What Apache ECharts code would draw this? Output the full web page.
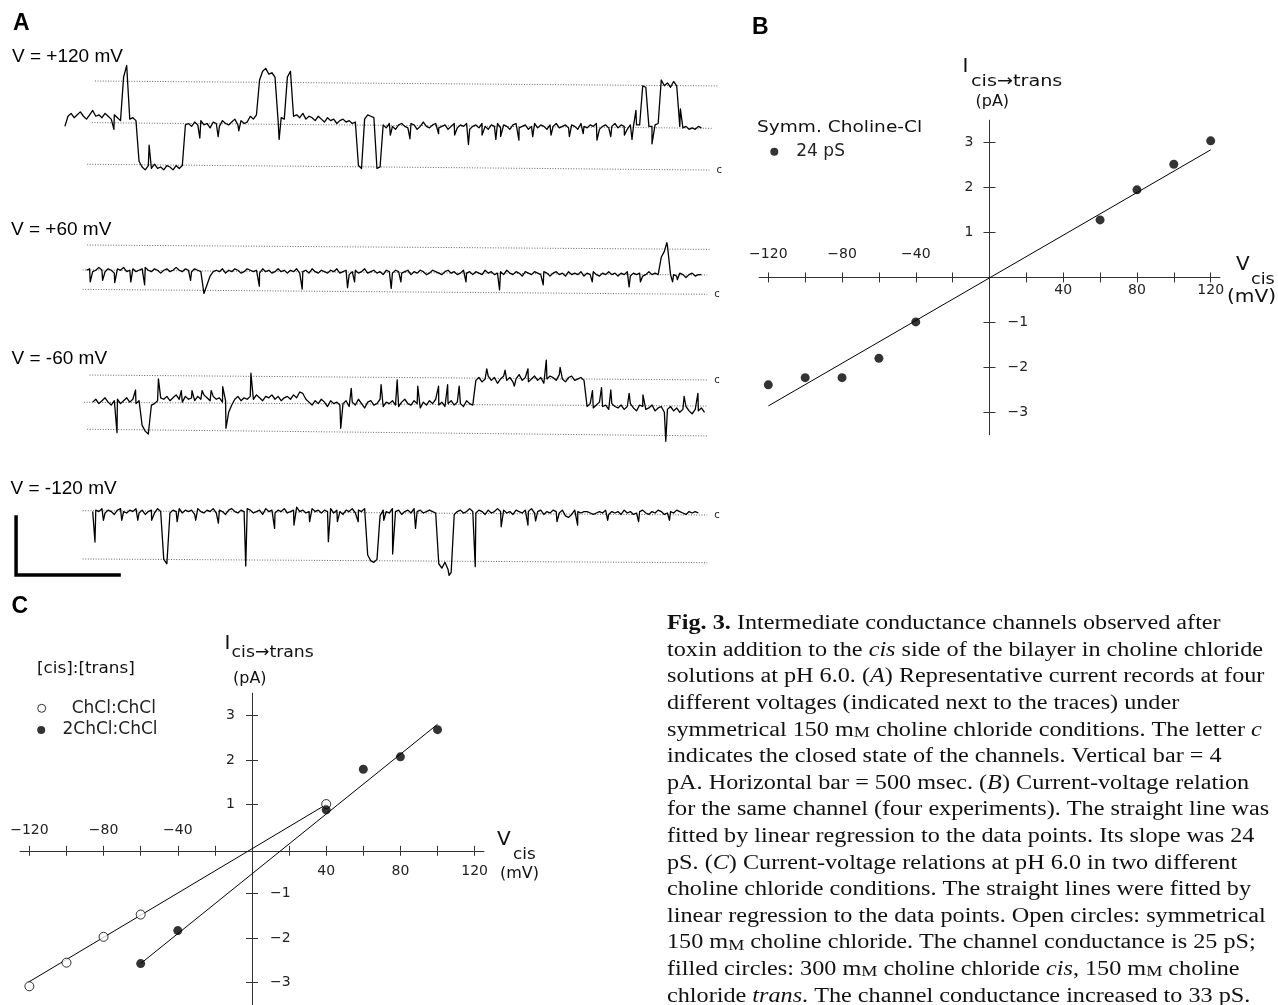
<!DOCTYPE html>
<html><head><meta charset="utf-8">
<script src="https://cdn.jsdelivr.net/npm/echarts@6/dist/echarts.min.js"></script>
<style>html,body{margin:0;padding:0;background:#fff}#chart{width:1278px;height:1005px}</style>
</head><body><div id="chart"></div>
<script>
// ---------------- DATA ----------------
// Panel A: single-channel current records (time in ms, current in pA, closed level = 0)
const traceStep = 15;
const trace1Start = 15;
const trace1Values = [2.8,
 3.5,3.7,3.4,3.6,3.8,3.5,3.3,3.6,3.9,3.5,3.6,3.4,3.7,3.5,3.3,3.6,3.4,3.2,
 6.2,7.0,3.3,3.4,3.2,0.4,
 0.0,-0.2,0.1,-0.1,0.2,-0.1,0.0,-0.2,0.1,0.0,-0.2,0.1,-0.1,0.1,
 2.9,
 3.0,2.8,3.1,2.9,3.2,2.9,3.0,2.7,3.1,3.0,2.8,3.2,3.0,2.9,3.1,3.3,2.9,3.2,3.0,3.1,
 3.5,3.3,3.6,
 6.0,6.6,6.8,6.4,6.5,6.2,
 3.2,3.4,3.3,
 6.2,6.6,
 3.5,3.6,3.4,3.7,3.3,3.5,3.4,3.2,3.5,3.3,3.1,3.4,3.2,3.3,3.0,3.2,3.3,3.1,3.2,3.0,3.1,
 0.1,-0.1,
 3.3,3.6,3.5,3.4,
 -0.1,0.0,
 2.9,2.7,3.0,2.8,2.6,2.9,3.0,2.8,2.7,3.0,2.9,2.6,2.8,3.1,2.8,2.7,2.9,3.0,2.7,2.8,
 2.9,2.6,2.8,3.0,2.7,2.9,2.8,3.0,2.6,2.8,2.9,2.7,3.0,2.8,2.6,2.9,2.8,3.0,2.7,2.9,
 2.8,2.6,2.9,3.0,2.7,2.8,2.9,2.6,2.8,3.0,2.7,2.9,2.8,2.6,2.9,2.8,3.0,2.7,2.8,2.9,
 2.7,2.9,2.8,2.6,3.0,2.8,2.7,2.9,2.8,3.0,2.6,2.8,2.9,2.7,2.8,3.0,2.7,2.9,2.8,2.6,2.9,2.8,
 2.9,2.9,5.6,5.5,2.8,2.8,2.9,3.0,
 6.0,5.6,5.8,5.5,5.9,5.6,
 2.8,2.7,2.8,2.6,2.7,2.6,2.8,2.7];
const trace1Spikes = [[253,2.6],[424,1.5],[670,2.0],[759,2.1],[859,2.5],[1055,1.9],[1595,2.2],[1690,1.95],
 [1829,2.3],[1907,2.2],[1974,1.55],[2040,2.2],[2107,1.9],[2130,2.1],[2219,1.85],[2286,2.1],[2375,2.2],
 [2464,2.1],[2531,2.3],[2598,1.85],[2665,2.1],[2731,2.2],[2768,1.9],[2787,3.9],[2865,1.6],[3003,4.0]];
const trace1Levels = [[123,0.19,3144,-0.21],[146,3.06,3155,2.67],[161,5.93,3188,5.59]];

const trace2Start = 120;
const trace2Values = [
 1.5,1.6,1.4,1.5,1.7,1.5,1.4,1.6,1.5,1.3,1.6,1.5,1.7,1.4,1.5,1.6,1.4,1.5,1.6,1.7,
 1.5,1.4,1.6,1.5,1.3,1.5,1.6,1.4,1.5,1.7,1.5,1.4,1.6,1.5,1.4,1.6,1.5,
 1.4,-0.1,0.5,1.1,1.4,
 1.5,1.4,1.6,1.3,1.5,1.4,1.6,1.5,1.3,1.4,1.6,1.5,
 1.4,1.5,1.3,1.6,1.4,1.5,1.3,1.4,1.6,1.4,1.5,1.3,
 1.5,1.4,1.6,1.3,1.4,1.5,1.3,1.6,1.4,1.3,1.5,1.4,
 1.3,1.5,1.4,1.6,1.3,1.4,1.5,1.2,1.4,1.5,1.3,1.4,
 1.6,1.3,1.4,1.5,1.3,1.4,1.2,1.5,1.4,1.3,1.5,1.4,
 1.3,1.4,1.5,1.2,1.4,1.3,1.5,1.4,1.2,1.3,1.5,1.4,
 1.3,1.2,1.4,1.5,1.3,1.4,1.2,1.3,1.5,1.3,1.4,1.2,
 1.4,1.3,1.2,1.5,1.3,1.4,1.2,1.3,1.4,1.2,1.5,1.3,
 1.2,1.4,1.3,1.1,1.4,1.3,1.2,1.4,1.3,1.2,1.4,1.3,
 1.1,1.3,1.4,1.2,1.3,1.1,1.4,1.2,1.3,1.2,1.4,1.1,
 1.3,1.2,1.4,1.2,1.1,1.3,1.2,1.4,1.2,1.3,1.1,1.3,
 1.2,1.4,1.1,1.3,1.2,1.3,1.1,1.2,1.4,1.2,1.3,1.2,
 2.4,2.8,3.2,1.2,
 1.2,1.1,1.3,1.2,1.0,1.2,1.3,1.1,1.2,1.2];
const trace2Spikes = [[138,0.7],[198,0.8],[257,0.65],[335,0.7],[402,0.5],[625,0.8],[959,0.4],[1167,0.2],
 [1387,0.3],[1421,0.7],[1599,0.25],[1646,0.7],[1962,0.7],[2125,0.15],[2337,0.5],[2575,0.7],[2754,0.35],
 [2809,0.7],[2937,3.4],[2965,0.7],[2988,0.85]];
const trace2Levels = [[101,0.18,3133,-0.16],[101,1.52,3133,1.17],[123,3.24,3144,2.94]];

const trace3Start = 150;
const trace3Values = [
 -1.7,-1.5,-1.8,-1.6,-1.4,-1.7,-1.9,-1.6,
 -1.5,-1.8,-1.6,-1.4,-1.7,-1.5,-1.8,-1.6,
 -3.3,-3.7,-3.9,-1.9,
 -1.8,-1.6,-1.4,-1.5,-1.3,-1.6,-1.4,-1.2,-1.5,-1.7,-1.3,-1.5,-1.4,-1.6,-1.3,-1.5,-1.2,-1.4,-1.6,-1.3,-1.5,-1.4,-1.7,
 -1.6,-2.4,-1.9,
 -1.5,-1.3,-1.6,-1.4,-1.5,
 -1.3,-1.5,-1.2,-1.4,-1.6,-1.3,-1.4,-1.2,-1.5,-1.3,-1.6,-1.4,-1.3,-1.5,-1.2,-1.4,
 -1.0,-1.1,
 -1.5,-1.7,-1.9,-1.6,-1.8,-1.5,-1.7,-2.0,-1.6,-1.8,-1.7,
 -1.9,
 -1.8,-1.6,-2.0,-1.7,-1.9,-1.5,-1.8,-2.1,-1.7,-1.6,-1.9,-1.8,-1.5,-2.0,-1.7,-1.8,-1.6,-1.9,-2.0,-1.7,-1.5,
 -1.8,-1.9,-1.6,-1.8,-2.1,-1.7,-1.9,-1.6,-1.8,-1.5,-1.9,-1.7,-2.0,-1.8,-1.6,-1.9,-1.7,-1.8,-2.0,-1.6,-1.8,-1.9,
 -0.2,0.0,-0.3,-0.1,0.1,-0.2,0.0,-0.4,-0.1,0.1,-0.2,0.0,-0.3,-0.1,0.2,-0.2,0.0,-0.3,-0.1,0.1,
 -0.2,0.0,-0.4,-0.1,0.1,0.0,-0.2,0.2,-0.1,-0.3,0.0,0.1,-0.2,-0.1,0.0,
 -0.2,
 -2.0,-1.8,-2.1,-1.9,-1.7,-2.0,-1.9,-2.2,-1.8,-2.0,-2.1,-1.9,-2.2,-2.0,-1.8,-2.1,-2.3,-1.9,-2.0,-2.2,
 -2.1,-1.9,-2.3,-2.1,-2.0,-2.4,-2.2,-2.0,-2.3,-2.1,-2.4,-2.2,-2.0,-2.3,-2.5,-2.2,-2.3,-2.1,-2.4];
const trace3Spikes = [[268,-3.8],[358,-0.86],[469,-0.1],[580,-0.9],[632,-0.9],[681,-0.9],[725,-0.9],[781,-0.63],
 [797,-3.5],[918,0.3],[1354,-3.5],[1405,-0.75],[1550,-0.5],[1628,-0.17],[1728,-0.6],[1829,-0.6],[1873,-0.5],
 [1929,-0.6],[2063,0.6],[2152,0.5],[2197,-0.6],[2263,0.6],[2352,1.2],[2419,0.7],[2576,-0.9],[2620,-0.7],
 [2665,-0.86],[2754,-1.1],[2821,-1.2],[2932,-4.4],[3021,-1.3],[3088,-1.1]];
const trace3Levels = [[135,0.17,3133,-0.17],[108,-1.71,3133,-1.97],[123,-3.57,3133,-4.03]];

const trace4Start = 150;
const trace4Values = [0.1,
 0.2,0.1,0.3,0.0,0.2,0.1,-0.1,0.2,0.3,0.1,0.0,0.2,0.1,0.3,0.0,0.2,-0.1,0.1,0.2,0.0,0.3,0.1,
 -3.2,-3.5,0.0,
 0.2,0.1,0.3,0.0,0.2,0.1,0.2,-0.1,0.3,0.1,
 0.0,0.2,0.1,0.3,0.0,0.2,0.1,-0.1,0.2,0.3,
 0.1,0.0,0.2,0.1,0.3,0.2,0.0,0.1,0.2,-0.1,
 0.3,0.1,0.2,0.0,0.2,0.1,0.3,0.0,0.1,0.2,
 0.4,0.1,0.2,0.0,0.1,0.3,0.1,0.2,0.0,0.2,
 0.1,0.3,0.0,0.2,0.1,-0.1,0.2,0.1,0.3,0.0,
 0.2,0.1,0.3,
 -2.9,-3.3,-3.4,-3.2,-0.2,
 0.2,0.1,0.0,0.3,0.1,0.2,-0.1,0.1,0.2,0.0,0.3,0.1,0.2,0.0,0.1,0.2,0.1,
 0.0,-3.5,-3.8,-3.4,-3.9,-4.1,-0.1,
 0.1,0.2,0.0,0.1,0.3,0.1,0.0,0.2,0.1,-0.1,
 0.2,0.0,0.1,0.3,0.1,0.2,0.0,0.1,-0.1,0.2,
 0.1,0.0,0.2,0.1,0.3,0.0,0.1,0.2,-0.1,0.1,
 0.0,0.2,0.1,0.0,0.2,-0.2,-0.3,-0.1,0.2,0.1,
 0.0,0.1,0.1,0.0,-0.1,0.0,0.1,0.0,0.2,-0.1,
 0.1,0.0,0.1,-0.1,0.2,0.0,0.1,-0.1,0.0,0.1,
 0.2,0.0,-0.1,0.1,0.0,0.2,0.1,-0.1,0.0,0.1,
 0.0,0.2,0.1,0.0,-0.1,0.1,0.0,0.1,0.0];
const trace4Spikes = [[161,-2.0],[202,-0.5],[291,-0.5],[369,-0.5],[436,-0.5],[560,-0.6],[650,-0.5],[760,-0.7],
 [893,-3.66],[1033,-1.06],[1127,-0.83],[1203,-0.6],[1294,-1.98],[1338,-0.6],[1439,-0.6],[1563,-0.5],
 [1606,-2.83],[1717,-1.06],[1880,-4.3],[2007,-3.7],[2133,-0.95],[2263,-0.83],[2300,-0.55],[2404,-0.6],
 [2504,-0.83],[2650,-0.5],[2800,-0.6],[2950,-0.5]];
const trace4Levels = [[101,0.16,3133,-0.14],[101,-3.17,3133,-3.43]];

const scaleBarPA = 4;       // vertical bar = 4 pA
const scaleBarMs = 500;     // horizontal bar = 500 ms
const scaleBarCorner = [-222, -4.28]; // in the -120 mV record's time/current frame

// Panel B: I-V, symmetrical choline-Cl
const bVoltages = [-120,-100,-80,-60,-40,60,80,100,120];
const bCurrents = [-2.39,-2.23,-2.23,-1.80,-0.99,1.28,1.95,2.52,3.04];
const bFit = [[-120,-2.86],[120,2.84]];

// Panel C: I-V in two conditions
const cOpenVoltages = [-120,-100,-80,-60,40];
const cOpenCurrents = [-3.08,-2.55,-1.97,-1.47,1.01];
const cFilledVoltages = [-60,-40,40,60,80,100];
const cFilledCurrents = [-2.57,-1.83,0.88,1.79,2.07,2.68];
const cOpenFit = [[-121,-3.0],[40,1.0]];
const cFilledFit = [[-60,-2.57],[100,2.80]];

// tick values
const xTickValues = [-120,-100,-80,-60,-40,-20,20,40,60,80,100,120];
const xLabelsNeg = [-120,-80,-40];
const xLabelsPos = [40,80,120];
const yTickValues = [-3,-2,-1,1,2,3];
const yLabelsPos = [1,2,3];
const yLabelsNeg = [-1,-2,-3];

const captionLines = [
 '{b|Fig. 3.} Intermediate conductance channels observed after',
 'toxin addition to the {i|cis} side of the bilayer in choline chloride',
 'solutions at pH 6.0. ({i|A}) Representative current records at four',
 'different voltages (indicated next to the traces) under',
 'symmetrical 150 m{sc|M} choline chloride conditions. The letter {i|c}',
 'indicates the closed state of the channels. Vertical bar = 4',
 'pA. Horizontal bar = 500 msec. ({i|B}) Current-voltage relation',
 'for the same channel (four experiments). The straight line was',
 'fitted by linear regression to the data points. Its slope was 24',
 'pS. ({i|C}) Current-voltage relations at pH 6.0 in two different',
 'choline chloride conditions. The straight lines were fitted by',
 'linear regression to the data points. Open circles: symmetrical',
 '150 m{sc|M} choline chloride. The channel conductance is 25 pS;',
 'filled circles: 300 m{sc|M} choline chloride {i|cis}, 150 m{sc|M} choline',
 'chloride {i|trans}. The channel conductance increased to 33 pS.'
];

// ---------------- BUILD ----------------
const SANS = '"Liberation Sans", Arial, sans-serif';
const PLOT = '"DejaVu Sans", sans-serif';
const SERIF = '"Liberation Serif", "Times New Roman", serif';
const INK = '#111';

function buildTrace(start, values, spikes) {
  const pts = values.map((v, i) => [start + i * traceStep, v]);
  spikes.forEach(s => pts.push([s[0], s[1]]));
  pts.sort((a, b) => a[0] - b[0]);
  return pts;
}
const zip = (xs, ys) => xs.map((x, i) => [x, ys[i]]);
const fmt = v => (v < 0 ? '\u2212' + Math.abs(v) : String(v));

const grid = [], xAxis = [], yAxis = [], series = [];
function addGrid(rect, xa, ya) {
  const gi = grid.length;
  grid.push(rect);
  xAxis.push(Object.assign({type: 'value', gridIndex: gi}, xa));
  yAxis.push(Object.assign({type: 'value', gridIndex: gi}, ya));
  return gi; // same index for its xAxis / yAxis
}

// A grids: 0.206 px/ms, 14.5 px/pA
const traceGrids = [
  {top: 51, height: 130.5, min: -1, max: 8},
  {top: 234, height: 72.5, min: -1, max: 4},
  {top: 348.5, height: 101.5, min: -5, max: 2},
  {top: 498.5, height: 87, min: -5, max: 1}
];
const traces = [
  {start: trace1Start, values: trace1Values, spikes: trace1Spikes, levels: trace1Levels},
  {start: trace2Start, values: trace2Values, spikes: trace2Spikes, levels: trace2Levels},
  {start: trace3Start, values: trace3Values, spikes: trace3Spikes, levels: trace3Levels},
  {start: trace4Start, values: trace4Values, spikes: trace4Spikes, levels: trace4Levels}
];
traces.forEach((tr, k) => {
  const g = traceGrids[k];
  const gi = addGrid({left: 0, width: 721, top: g.top, height: g.height},
    {min: -300, max: 3200, show: false}, {min: g.min, max: g.max, show: false});
  tr.levels.forEach((lv, j) => {
    const s = {
      type: 'line', xAxisIndex: gi, yAxisIndex: gi, data: [[lv[0], lv[1]], [lv[2], lv[3]]],
      symbol: 'none', silent: true, z: 1,
      lineStyle: {type: [1, 1.6], width: 1, color: '#666'}
    };
    if (j === 0) {
      s.endLabel = {show: true, formatter: 'c', distance: 7, fontSize: 10, fontFamily: PLOT, color: '#222'};
    }
    series.push(s);
  });
  series.push({
    type: 'line', xAxisIndex: gi, yAxisIndex: gi, data: buildTrace(tr.start, tr.values, tr.spikes),
    symbol: 'none', silent: true, z: 3, lineStyle: {width: 1.3, color: '#000', join: 'round'}
  });
  if (k === 3) {
    series.push({
      type: 'line', xAxisIndex: gi, yAxisIndex: gi, symbol: 'none', silent: true, clip: false,
      data: [[scaleBarCorner[0], scaleBarCorner[1] + scaleBarPA], [scaleBarCorner[0], scaleBarCorner[1]],
             [scaleBarCorner[0] + scaleBarMs, scaleBarCorner[1]]],
      lineStyle: {width: 3.5, color: '#000', cap: 'square', join: 'miter'}
    });
  }
});

// IV plots: main data grid (hidden axes) + 4 half-grids that carry the crossing axes
function ivPlot(r, m) {
  const hid = {show: false};
  const line = {show: true, onZero: false, lineStyle: {color: '#333', width: 1}};
  const noLine = {show: false, onZero: false};
  const lab = {fontFamily: PLOT, fontSize: 14, color: '#222', formatter: fmt};
  const tick = vals => ({show: true, customValues: vals, length: 5, lineStyle: {color: '#333'}});
  const ytick = vals => ({show: true, customValues: vals, length: 6, lineStyle: {color: '#333'}});
  const hw = r.width / 2, hh = r.height / 2;
  const X = {min: -125, max: 125};
  // upper half: x-axis at its bottom edge (zero line), positive labels below
  addGrid({left: r.left, top: r.top, width: r.width, height: hh},
    Object.assign({position: 'bottom', axisLine: line, axisTick: tick(xTickValues), splitLine: hid,
      axisLabel: Object.assign({customValues: xLabelsPos, margin: m.xBottom}, lab)}, X),
    {min: 0, max: 3.5, show: false});
  // lower half: x-axis at its top edge, negative labels above
  addGrid({left: r.left, top: r.top + hh, width: r.width, height: hh},
    Object.assign({position: 'top', axisLine: noLine, axisTick: tick(xTickValues), splitLine: hid,
      axisLabel: Object.assign({customValues: xLabelsNeg, margin: m.xTop}, lab)}, X),
    {min: -3.5, max: 0, show: false});
  // right half: y-axis at its left edge, positive labels left
  addGrid({left: r.left + hw, top: r.top, width: hw, height: r.height},
    {min: 0, max: 125, show: false},
    {min: -3.5, max: 3.5, position: 'left', axisLine: line, axisTick: ytick(yTickValues), splitLine: hid,
      axisLabel: Object.assign({customValues: yLabelsPos, margin: m.yLeft}, lab)});
  // left half: y-axis at its right edge, negative labels right
  addGrid({left: r.left, top: r.top, width: hw, height: r.height},
    {min: -125, max: 0, show: false},
    {min: -3.5, max: 3.5, position: 'right', axisLine: noLine, axisTick: ytick(yTickValues), splitLine: hid,
      axisLabel: Object.assign({customValues: yLabelsNeg, margin: m.yRight}, lab)});
  // data grid
  return addGrid(r, Object.assign({show: false}, X), {min: -3.5, max: 3.5, show: false});
}
const gB = ivPlot({left: 759.1, top: 120.2, width: 460.8, height: 314.5},
  {xBottom: 6, xTop: 16, yLeft: 16, yRight: 18});
const gC = ivPlot({left: 20.1, top: 693.1, width: 463.8, height: 315.4},
  {xBottom: 14, xTop: 13, yLeft: 17, yRight: 18});

series.push({type: 'line', xAxisIndex: gB, yAxisIndex: gB, data: bFit, symbol: 'none', silent: true,
  lineStyle: {color: '#000', width: 1}, z: 2});
series.push({type: 'scatter', name: '24 pS', xAxisIndex: gB, yAxisIndex: gB, data: zip(bVoltages, bCurrents),
  symbol: 'circle', symbolSize: 9, itemStyle: {color: '#000'}, z: 3});
series.push({type: 'line', xAxisIndex: gC, yAxisIndex: gC, data: cOpenFit, symbol: 'none', silent: true,
  lineStyle: {color: '#000', width: 1}, z: 2});
series.push({type: 'line', xAxisIndex: gC, yAxisIndex: gC, data: cFilledFit, symbol: 'none', silent: true,
  lineStyle: {color: '#000', width: 1}, z: 2});
series.push({type: 'scatter', name: 'ChCl:ChCl', xAxisIndex: gC, yAxisIndex: gC, data: zip(cOpenVoltages, cOpenCurrents),
  symbol: 'circle', symbolSize: 9, itemStyle: {color: '#fff', borderColor: '#000', borderWidth: 1}, z: 3});
series.push({type: 'scatter', name: '2ChCl:ChCl', xAxisIndex: gC, yAxisIndex: gC, data: zip(cFilledVoltages, cFilledCurrents),
  symbol: 'circle', symbolSize: 9, itemStyle: {color: '#000'}, z: 4});

const legendText = {fontFamily: PLOT, fontSize: 17, color: '#222'};
const legend = [
  {data: [{name: '24 pS', icon: 'circle'}], left: 770.3, top: 143.2, itemWidth: 8, itemHeight: 8, padding: 0,
   selectedMode: false, textStyle: Object.assign({padding: [0, 0, 0, 13]}, legendText)},
  {data: [{name: 'ChCl:ChCl', icon: 'circle', itemStyle: {color: '#fff', borderColor: '#000', borderWidth: 1}}],
   left: 37.2, top: 699.8, itemWidth: 8, itemHeight: 8, padding: 0, selectedMode: false,
   textStyle: Object.assign({padding: [0, 0, 0, 21]}, legendText)},
  {data: [{name: '2ChCl:ChCl', icon: 'circle'}], left: 37.2, top: 721.5, itemWidth: 8, itemHeight: 8, padding: 0,
   selectedMode: false, textStyle: Object.assign({padding: [0, 0, 0, 12.3]}, legendText)}
];

// text graphics
function txt(text, x, y, size, family, opts) {
  opts = opts || {};
  return {type: 'text', x: x, y: y, scaleX: opts.scaleX || 1, silent: true,
    style: {text: text, fontSize: size, fontFamily: family, fontWeight: opts.weight || 'normal',
      fill: opts.color || INK, align: 'left', verticalAlign: 'middle'}};
}
const graphic = [
  txt('A', 13, 23.5, 23, SANS, {weight: 'bold', color: '#000'}),
  txt('B', 752, 28, 23, SANS, {weight: 'bold', color: '#000'}),
  txt('C', 11.5, 606.7, 23, SANS, {weight: 'bold', color: '#000'}),
  txt('V = +120 mV', 12, 56.5, 19, SANS, {color: '#000'}),
  txt('V = +60 mV', 11, 230, 19, SANS, {color: '#000'}),
  txt('V = -60 mV', 11.5, 358.5, 19, SANS, {color: '#000'}),
  txt('V = -120 mV', 10.5, 489, 19, SANS, {color: '#000'}),
  // B axis titles
  txt('I', 962.5, 67, 20, PLOT),
  txt('cis\u2192trans', 971, 81.7, 16, PLOT, {scaleX: 1.2}),
  txt('(pA)', 975.5, 101.7, 16, PLOT),
  txt('V', 1236, 264.5, 20, PLOT),
  txt('cis', 1251, 280, 16, PLOT, {scaleX: 1.1}),
  txt('(mV)', 1227, 297, 18, PLOT, {scaleX: 1.12}),
  txt('Symm. Choline-Cl', 757, 128.3, 16, PLOT, {scaleX: 1.16}),
  // C axis titles
  txt('I', 224.5, 643.3, 20, PLOT),
  txt('cis\u2192trans', 231.6, 652.5, 16, PLOT, {scaleX: 1.08}),
  txt('(pA)', 233, 679, 16, PLOT),
  txt('V', 497, 840, 20, PLOT),
  txt('cis', 513, 855, 16, PLOT, {scaleX: 1.05}),
  txt('(mV)', 500, 874, 16, PLOT),
  txt('[cis]:[trans]', 37, 669, 16, PLOT, {scaleX: 1.05})
];
const capSize = 20;
const rich = {
  b: {fontFamily: SERIF, fontSize: capSize, fontWeight: 'bold', fontStyle: 'normal', fill: INK},
  i: {fontFamily: SERIF, fontSize: capSize, fontWeight: 'normal', fontStyle: 'italic', fill: INK},
  sc: {fontFamily: SERIF, fontSize: 15, fontWeight: 'normal', fontStyle: 'normal', fill: INK, verticalAlign: 'bottom', lineHeight: 20}
};
captionLines.forEach((line, k) => {
  graphic.push({type: 'text', x: 667, y: 624 + 26.6 * k, scaleX: 1.21, silent: true,
    style: {text: line, rich: rich, fontFamily: SERIF, fontSize: capSize, fill: INK,
      align: 'left', verticalAlign: 'middle'}});
});

const chart = echarts.init(document.getElementById('chart'), null, {renderer: 'canvas'});
chart.setOption({
  animation: false, backgroundColor: '#fff',
  grid: grid, xAxis: xAxis, yAxis: yAxis, series: series, legend: legend, graphic: graphic
});
</script></body></html>
